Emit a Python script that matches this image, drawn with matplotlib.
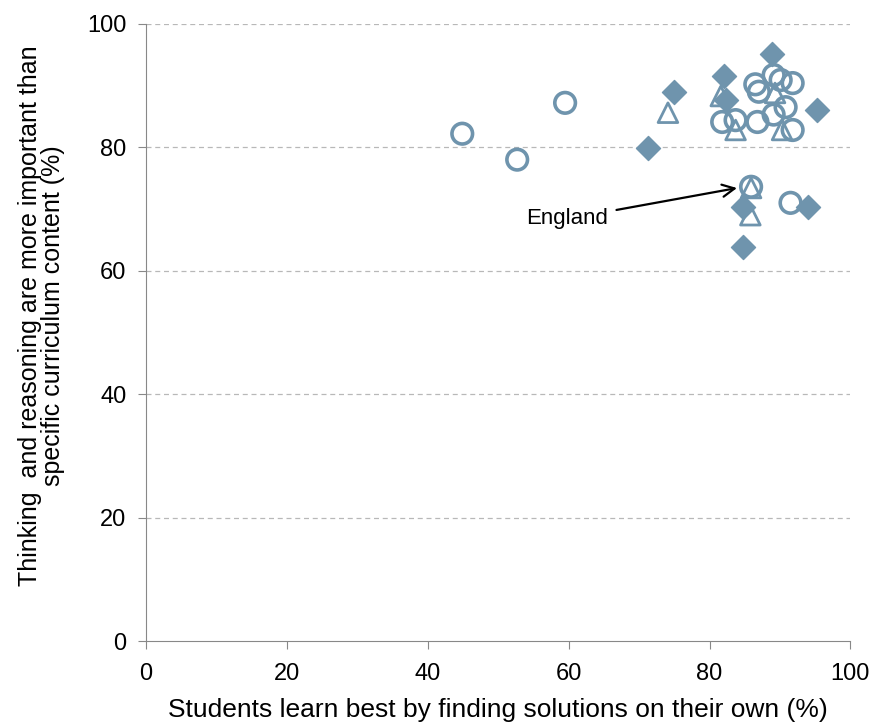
import numpy as np
import matplotlib.pyplot as plt

plt.rcParams['font.family'] = ['Liberation Sans', 'DejaVu Sans']

# filled diamonds
dia_x = [74.9, 82.0, 82.4, 88.8, 95.2, 71.2, 84.7, 84.8, 94.0]
dia_y = [89.0, 91.6, 87.7, 95.1, 86.1, 79.9, 70.3, 63.9, 70.3]

# open circles
circ_x = [44.9, 52.7, 59.5, 81.8, 83.7, 86.8, 86.5, 87.0, 89.1, 90.1, 91.8,
          89.1, 90.8, 91.8, 85.9, 91.5]
circ_y = [82.2, 78.0, 87.2, 84.1, 84.4, 84.1, 90.2, 89.0, 91.7, 90.9, 90.4,
          85.3, 86.5, 82.8, 73.6, 71.0]

# open triangles
tri_x = [74.1, 81.6, 83.7, 89.3, 90.3, 85.9, 85.8]
tri_y = [85.6, 88.3, 82.8, 88.8, 82.8, 73.4, 69.0]

col = '#6f94ad'

fig = plt.figure(figsize=(8.74, 7.22), dpi=100)
ax = fig.add_axes([0.167, 0.112, 0.806, 0.855])

ax.scatter(dia_x, dia_y, marker='D', s=150, color=col, zorder=3)
ax.scatter(circ_x, circ_y, marker='o', s=220, facecolors='none',
           edgecolors=col, linewidths=2.6, zorder=3)
ax.scatter(tri_x, tri_y, marker='^', s=200, facecolors='none',
           edgecolors=col, linewidths=2.0, zorder=3)

ax.annotate('England', xy=(83.9, 73.4), xytext=(54.0, 68.4),
            fontsize=16, va='center', ha='left',
            arrowprops=dict(arrowstyle='->', color='black', lw=1.6,
                            shrinkA=4, shrinkB=0, mutation_scale=22))

ax.set_xlim(0, 100)
ax.set_ylim(0, 100)
ax.set_xticks(range(0, 101, 20))
ax.set_yticks(range(0, 101, 20))
ax.tick_params(labelsize=17, color='#888888', length=6)
ax.tick_params(axis='x', pad=10)
ax.tick_params(axis='y', pad=8)

for s in ['top', 'right']:
    ax.spines[s].set_visible(False)
for s in ['left', 'bottom']:
    ax.spines[s].set_color('#888888')

for yv in range(20, 101, 20):
    ax.axhline(yv, color='#b8b8b8', lw=0.9, ls=(0, (4, 3)), zorder=1)

ax.set_xlabel('Students learn best by finding solutions on their own (%)',
              fontsize=19, labelpad=9)
ax.set_ylabel('Thinking  and reasoning are more important than\nspecific curriculum content (%)',
              fontsize=18, linespacing=0.95)
ax.yaxis.set_label_coords(-0.115, 0.528)

fig.savefig('out.png', dpi=100)
